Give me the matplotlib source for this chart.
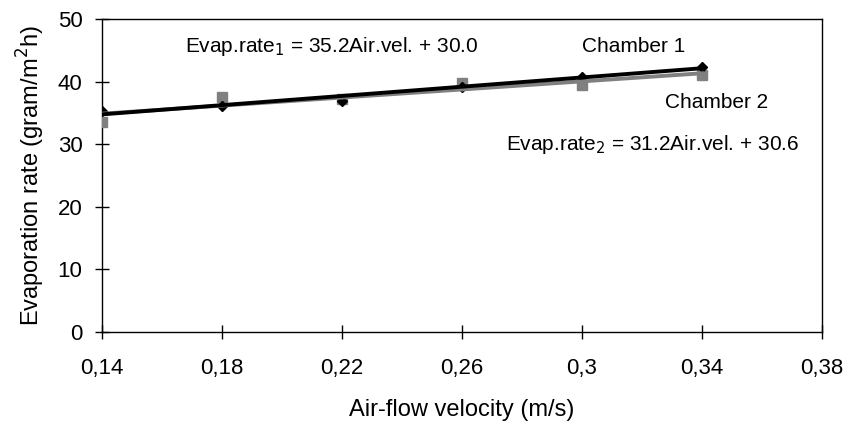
import numpy as np
import matplotlib
matplotlib.use("Agg")
import matplotlib.pyplot as plt

plt.rcParams['font.family'] = ['Liberation Sans', 'DejaVu Sans']

# air velocity (m/s) and evaporation rate (gram/m2h)
air_vel = [0.14, 0.18, 0.22, 0.26, 0.30, 0.34]
chamber1 = [35.35, 36.1, 36.9, 39.15, 40.8, 42.4]
chamber2 = [33.6, 37.5, 37.3, 39.8, 39.4, 41.0]

xticks = [0.14, 0.18, 0.22, 0.26, 0.30, 0.34, 0.38]
xticklabels = ['0,14', '0,18', '0,22', '0,26', '0,3', '0,34', '0,38']
yticks = [0, 10, 20, 30, 40, 50]

eq1 = 'Evap.rate$_{1}$ = 35.2Air.vel. + 30.0'
eq2 = 'Evap.rate$_{2}$ = 31.2Air.vel. + 30.6'

W, H = 852, 423
fig = plt.figure(figsize=(W/100, H/100), dpi=100)
ax = fig.add_axes([102/W, 91/H, 720/W, 313/H])

x = np.array(air_vel)
ax.plot(x, chamber2, ls='none', marker='s', ms=7, color='#808080', zorder=3)
ax.plot(x, chamber1, ls='none', marker='D', ms=5, color='black', zorder=3)

# linear trend lines
p2 = np.polyfit(x, chamber2, 1)
p1 = np.polyfit(x, chamber1, 1)
ax.plot(x, np.polyval(p2, x), color='#808080', lw=2.8, zorder=4)
ax.plot(x, np.polyval(p1, x), color='black', lw=2.8, zorder=5)

ax.set_xlim(0.14, 0.38)
ax.set_ylim(0, 50)
ax.set_xticks(xticks)
ax.set_xticklabels(xticklabels)
ax.set_yticks(yticks)
ax.tick_params(axis='both', direction='inout', length=10, width=1, labelsize=16)
ax.tick_params(axis='x', pad=14)
ax.tick_params(axis='y', pad=9)
for s in ax.spines.values():
    s.set_linewidth(1)
    s.set_color('black')

ax.set_xlabel('Air-flow velocity (m/s)', fontsize=17, labelpad=14)
ax.set_ylabel('Evaporation rate (gram/m$^{2}$h)', fontsize=17, labelpad=8)

def label(px, py, s):
    fig.text(px/W, 1 - py/H, s, fontsize=15, va='center', ha='left')

label(185, 47, eq1)
label(582, 47, 'Chamber 1')
label(665, 103, 'Chamber 2')
label(506, 145, eq2)

fig.savefig('out.png', dpi=100)
